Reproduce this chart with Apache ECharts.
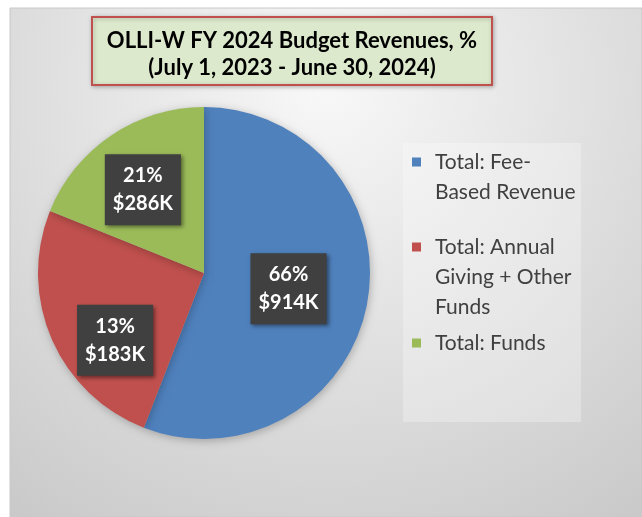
<!DOCTYPE html>
<html><head><meta charset="utf-8">
<script src="https://cdn.jsdelivr.net/npm/echarts@6/dist/echarts.min.js"></script>
<style>html,body{margin:0;padding:0;background:#fff}#c{width:642px;height:517px}</style>
</head><body><div id="c"></div>
<script>
// ---- data ----
const categories = ['Total: Fee-\nBased Revenue', 'Total: Annual\nGiving + Other\nFunds', 'Total: Funds'];
const sliceShares = [55.9, 25.2, 18.9];          // slice sizes as drawn in the picture
const pctLabels = ['66%', '13%', '21%'];
const amountLabels = ['$914K', '$183K', '$286K'];
const titleLines = ['OLLI-W FY 2024 Budget Revenues, %', '(July 1, 2023 - June 30, 2024)'];

// ---- styles ----
const colors = ['#4f81bd', '#c0504d', '#9bbb59'];
const FONT = 'Lato, "Open Sans", sans-serif';
const labelOffsets = [[0, 0], [-10, 33], [-13, -12]];
const legendIconY = [162, 247, 343];
const LH = 30;

const chart = echarts.init(document.getElementById('c'));

const legends = categories.map((name, i) => {
  const n = name.split('\n').length;
  return {
    orient: 'vertical',
    left: 412,
    top: legendIconY[i] - (2 * n - 1) * LH / 2,
    padding: 0,
    icon: 'rect',
    itemWidth: 9,
    itemHeight: 9,
    selectedMode: false,
    data: [name],
    // blank lines above keep the first text line level with the colour square
    formatter: nm => '\n'.repeat(n - 1) + nm,
    textStyle: {
      fontFamily: FONT, fontSize: 21, color: '#404040', lineHeight: LH,
      padding: [0, 0, 0, 9]
    }
  };
});

chart.setOption({
  backgroundColor: '#ffffff',
  color: colors,
  graphic: [
    {
      type: 'rect', z: -10, silent: true,
      shape: { x: 10, y: 8, width: 632, height: 509 },
      style: {
        fill: {
          type: 'radial', x: 0.5, y: 0.15, r: 1.05,
          colorStops: [{ offset: 0, color: '#f8f8f8' }, { offset: 1, color: '#c9c9c9' }]
        },
        stroke: '#c8c8c8', lineWidth: 1
      }
    },
    {
      type: 'rect', z: -9, silent: true,
      shape: { x: 403, y: 143, width: 178, height: 279 },
      style: { fill: 'rgba(255,255,255,0.28)' }
    }
  ],
  title: {
    text: titleLines.join('\n'),
    textAlign: 'center',
    left: 277,
    top: 17,
    padding: [10, 15, 4, 15],
    backgroundColor: '#dde9cc',
    borderColor: '#c0504d',
    borderWidth: 2,
    shadowColor: 'rgba(0,0,0,0.25)',
    shadowBlur: 4,
    shadowOffsetX: 1,
    shadowOffsetY: 1,
    textStyle: { fontFamily: FONT, fontSize: 22, fontWeight: 'bold', color: '#000', lineHeight: 27 }
  },
  legend: legends,
  series: [{
    type: 'pie',
    center: [204, 273],
    radius: 166,
    startAngle: 90,
    clockwise: true,
    avoidLabelOverlap: false,
    itemStyle: { borderWidth: 0, shadowBlur: 8, shadowColor: 'rgba(0,0,0,0.25)', shadowOffsetX: 1, shadowOffsetY: 2 },
    emphasis: { disabled: true },
    label: {
      show: true,
      position: 'inside',
      formatter: p => pctLabels[p.dataIndex] + '\n' + amountLabels[p.dataIndex],
      fontFamily: FONT, fontSize: 20, fontWeight: 'bold', color: '#ffffff', lineHeight: 28,
      backgroundColor: '#404040',
      padding: [8, 8, 7, 8],
      shadowColor: 'rgba(0,0,0,0.45)', shadowBlur: 4, shadowOffsetX: 2, shadowOffsetY: 2
    },
    labelLine: { show: false },
    data: categories.map((name, i) => ({
      name, value: sliceShares[i],
      label: { offset: labelOffsets[i] }
    }))
  }]
});
</script></body></html>
